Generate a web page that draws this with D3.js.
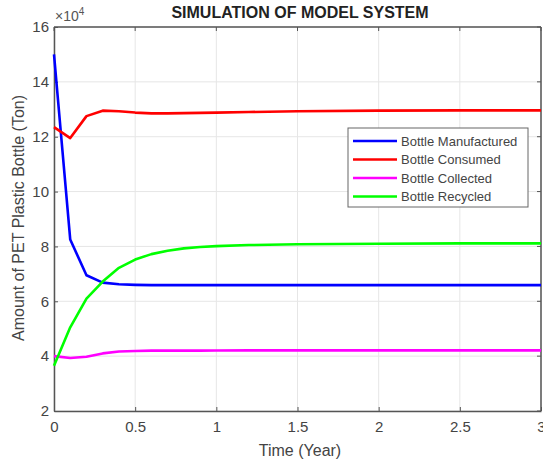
<!DOCTYPE html>
<html><head><meta charset="utf-8">
<script src="https://cdn.jsdelivr.net/npm/d3@7"></script>
<style>body{margin:0;background:#fff;}svg{display:block;font-family:"Liberation Sans",Arial,sans-serif;}</style>
</head><body>
<svg id="c" width="543" height="462"></svg>
<script>
const time = [0,0.1,0.2,0.3,0.4,0.5,0.6,0.7,0.8,0.9,1.0,1.2,1.5,2,2.5,3];
const manufactured = [150000,82500,69500,66800,66200,66000,65900,65900,65900,65900,65900,65900,65900,65900,65900,65900];
const consumed = [123500,119500,127500,129500,129300,128800,128500,128500,128600,128700,128800,129000,129300,129500,129600,129600];
const collected = [40000,39300,39800,41000,41700,41900,42000,42000,42000,42000,42050,42100,42100,42100,42100,42100];
const recycled = [36500,50500,61000,67200,72200,75200,77200,78400,79300,79800,80100,80500,80800,81000,81100,81100];
const seriesNames = ["Bottle Manufactured","Bottle Consumed","Bottle Collected","Bottle Recycled"];
const seriesColors = ["#0000ff","#ff0000","#ff00ff","#00ff00"];
const xTicks = [0,0.5,1,1.5,2,2.5,3];
const yTicks = [20000,40000,60000,80000,100000,120000,140000,160000];

const svg = d3.select("#c");
const L=54,R=541,T=27,B=411;
const x = d3.scaleLinear().domain([0,3]).range([L,R]);
const y = d3.scaleLinear().domain([20000,160000]).range([B,T]);

// grid
const g = svg.append("g");
g.selectAll(".gx").data(xTicks).enter().append("line")
  .attr("x1",d=>x(d)).attr("x2",d=>x(d)).attr("y1",T).attr("y2",B)
  .attr("stroke","#e6e6e6").attr("stroke-width",1);
g.selectAll(".gy").data(yTicks).enter().append("line")
  .attr("y1",d=>y(d)).attr("y2",d=>y(d)).attr("x1",L).attr("x2",R)
  .attr("stroke","#e6e6e6").attr("stroke-width",1);

// axes
const xAxis = d3.axisBottom(x).tickValues(xTicks).tickSizeInner(-4).tickSizeOuter(0).tickPadding(10).tickFormat(d3.format("~g"));
const yAxis = d3.axisLeft(y).tickValues(yTicks).tickSizeInner(-4).tickSizeOuter(0).tickPadding(5).tickFormat(d=>d/1e4);
const ax = svg.append("g").attr("transform",`translate(0,${B})`).call(xAxis);
const ay = svg.append("g").attr("transform",`translate(${L},0)`).call(yAxis);
[ax,ay].forEach(a=>{
  a.select(".domain").attr("stroke","#555").attr("stroke-width",1.5);
  a.selectAll(".tick line").attr("stroke","#555");
  a.selectAll(".tick text").attr("fill","#444").attr("font-size",15).attr("font-family","Liberation Sans, Arial, sans-serif");
});
// top/right frame
svg.append("line").attr("x1",L).attr("x2",R).attr("y1",T).attr("y2",T).attr("stroke","#555").attr("stroke-width",1.5);
svg.append("line").attr("x1",R).attr("x2",R).attr("y1",T).attr("y2",B).attr("stroke","#555").attr("stroke-width",1.5);
// top/right ticks
svg.selectAll(".tt").data(xTicks).enter().append("line")
  .attr("x1",d=>x(d)).attr("x2",d=>x(d)).attr("y1",T).attr("y2",T+4).attr("stroke","#555");
svg.selectAll(".rt").data(yTicks).enter().append("line")
  .attr("y1",d=>y(d)).attr("y2",d=>y(d)).attr("x1",R).attr("x2",R-4).attr("stroke","#555");

// lines
const allSeries = [manufactured,consumed,collected,recycled];
const line = d3.line().x((d,i)=>x(time[i])).y(d=>y(d));
allSeries.forEach((s,k)=>{
  svg.append("path").datum(s).attr("d",line).attr("fill","none")
    .attr("stroke",seriesColors[k]).attr("stroke-width",2.6).attr("stroke-linejoin","round");
});

// exponent label
const ex = svg.append("text").attr("x",55).attr("y",21).attr("fill","#555").attr("font-size",14);
ex.append("tspan").text("\u00d710");
ex.append("tspan").attr("dy",-6).attr("font-size",10).text("4");

// title
svg.append("text").attr("x",300).attr("y",18).attr("text-anchor","middle")
  .attr("font-weight","bold").attr("font-size",16).attr("fill","#222").text("SIMULATION OF MODEL SYSTEM");
// axis labels
svg.append("text").attr("x",300).attr("y",456).attr("text-anchor","middle")
  .attr("font-size",16).attr("fill","#444").text("Time (Year)");
svg.append("text").attr("transform","translate(24,218) rotate(-90)").attr("text-anchor","middle")
  .attr("font-size",16).attr("fill","#444").text("Amount of PET Plastic Bottle (Ton)");

// legend
const lg = svg.append("g");
lg.append("rect").attr("x",348).attr("y",128).attr("width",180).attr("height",79)
  .attr("fill","#fff").attr("stroke","#666").attr("stroke-width",1);
seriesNames.forEach((n,k)=>{
  const yy = 141 + k*18.5;
  lg.append("line").attr("x1",353).attr("x2",397).attr("y1",yy).attr("y2",yy)
    .attr("stroke",seriesColors[k]).attr("stroke-width",2.6);
  lg.append("text").attr("x",401).attr("y",yy+4.5).attr("font-size",13).attr("fill","#444").text(n);
});
</script>
</body></html>
